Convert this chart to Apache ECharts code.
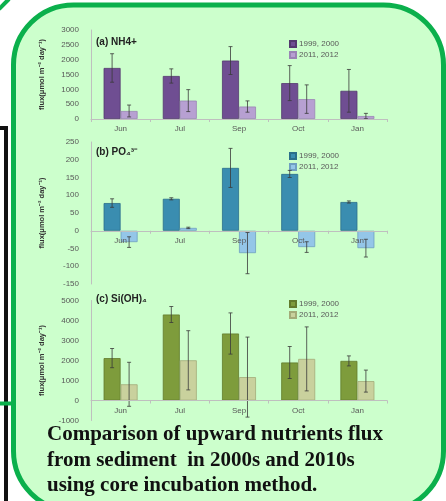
<!DOCTYPE html>
<html>
<head>
<meta charset="utf-8">
<script src="https://cdn.jsdelivr.net/npm/echarts@6/dist/echarts.min.js"></script>
<style>
  body { margin: 0; background: #fff; }
  #flux-chart { width: 446px; height: 501px; }
</style>
</head>
<body>
<div id="flux-chart"></div>
<script>
// months sampled
var months = ['Jun', 'Jul', 'Sep', 'Oct', 'Jan']

// (a) NH4+  flux
var nh4Old = [1720, 1450, 1970, 1210, 950]
var nh4OldErr = [480, 240, 470, 590, 720]
var nh4New = [270, 620, 420, 670, 100]
var nh4NewErr = [200, 370, 190, 480, 90]

// (b) PO4 flux
var po4Old = [78, 90, 177, 160, 81]
var po4OldErr = [12, 3, 55, 10, 3]
var po4New = [-32, 8, -63, -46, -49]
var po4NewErr = [15, 2, 58, 15, 25]

// (c) Si(OH)4 flux
var siOld = [2120, 4300, 3350, 1900, 1980]
var siOldErr = [480, 400, 1030, 800, 250]
var siNew = [810, 2010, 1170, 2080, 970]
var siNewErr = [1100, 1480, 2000, 1600, 550]

var periodLabels = { a1: '1999, 2000', a2: '2011, 2012', b1: '1999, 2000', b2: '2011, 2012', c1: '1999, 2000', c2: '2011, 2012' }
var captionLines = ['Comparison of upward nutrients flux', 'from sediment  in 2000s and 2010s', 'using core incubation method.']

var GAP = 0.426
var labelColor = '#595959'
var axisColor = '#bfbfbf'

var grids = [
  { left: 91, top: 30, width: 296, height: 89 },
  { left: 91, top: 142, width: 296, height: 142 },
  { left: 91, top: 300.5, width: 296, height: 120 }
]
var ranges = [[0, 3000, 500], [-150, 250, 50], [-1000, 5000, 1000]]

function errRender (side) {
  return function (params, api) {
    var i = api.value(0)
    var v = api.value(1)
    var e = api.value(2)
    var band = api.size([1, 0])[0]
    var bw = band * (1 - GAP) / 2
    var x = api.coord([i, v])[0] + side * bw / 2
    var yTop = api.coord([i, v + e])[1]
    var yBot = api.coord([i, v - e])[1]
    var st = { stroke: '#3a3a3a', lineWidth: 0.8 }
    return {
      type: 'group',
      children: [
        { type: 'line', shape: { x1: x, y1: yTop, x2: x, y2: yBot }, style: st },
        { type: 'line', shape: { x1: x - 2, y1: yTop, x2: x + 2, y2: yTop }, style: st },
        { type: 'line', shape: { x1: x - 2, y1: yBot, x2: x + 2, y2: yBot }, style: st }
      ]
    }
  }
}

function errData (vals, errs) {
  return vals.map(function (v, i) { return [i, v, errs[i]] })
}

// the category axis sits on the zero line; shift it up from the grid bottom
function xAxisFor (idx) {
  var r = ranges[idx]
  var lift = grids[idx].height * (0 - r[0]) / (r[1] - r[0])
  return {
    type: 'category',
    gridIndex: idx,
    data: months,
    z: 5,
    offset: -lift,
    axisLine: { onZero: false, lineStyle: { color: axisColor, width: 1 } },
    axisTick: { show: true, length: 3, lineStyle: { color: axisColor } },
    axisLabel: { color: labelColor, fontSize: 8, margin: 6 }
  }
}

function yAxisFor (idx) {
  var r = ranges[idx]
  return {
    type: 'value',
    gridIndex: idx,
    min: r[0],
    max: r[1],
    interval: r[2],
    name: 'flux(μmol m⁻² day⁻¹)',
    nameLocation: 'middle',
    nameRotate: 90,
    nameGap: 45,
    nameTextStyle: { fontSize: 7.5, fontWeight: 'bold', color: '#333' },
    splitLine: { show: false },
    axisLine: { show: true, onZero: false, lineStyle: { color: axisColor } },
    axisTick: { show: false },
    axisLabel: { color: labelColor, fontSize: 8, margin: 12, formatter: function (v) { return String(v) } }
  }
}

function barSeries (name, idx, data, color, border) {
  return {
    name: name,
    type: 'bar',
    xAxisIndex: idx,
    yAxisIndex: idx,
    data: data,
    barGap: '0%',
    barCategoryGap: (GAP * 100) + '%',
    itemStyle: { color: color, borderColor: border, borderWidth: 0.8 },
    z: 2
  }
}

function errSeries (idx, vals, errs, side) {
  return {
    type: 'custom',
    xAxisIndex: idx,
    yAxisIndex: idx,
    data: errData(vals, errs),
    encode: { x: 0, y: 1 },
    renderItem: errRender(side),
    z: 4
  }
}

function legendFor (names, top) {
  return {
    data: names,
    orient: 'vertical',
    left: 289,
    top: top,
    itemWidth: 6,
    itemHeight: 6,
    itemGap: 3,
    icon: 'rect',
    padding: 0,
    formatter: function (n) { return periodLabels[n] },
    textStyle: { fontSize: 8, color: labelColor, padding: [0, 0, 0, -2] }
  }
}

var chart = echarts.init(document.getElementById('flux-chart'))
var titleStyle = { fontSize: 10, fontWeight: 'bold', color: '#222', fontFamily: 'Liberation Sans' }

chart.setOption({
  textStyle: { fontFamily: 'Liberation Sans' },
  animation: false,
  graphic: [
    { type: 'rect', z: -10, shape: { x: 13.5, y: 5, width: 430, height: 506, r: 60 }, style: { fill: '#ccffcc', stroke: '#0bb04c', lineWidth: 5 } },
    { type: 'polyline', z: -10, shape: { points: [[0, 128], [6, 128], [6, 501]] }, style: { fill: null, stroke: '#111', lineWidth: 4 } },
    { type: 'line', z: -10, shape: { x1: 0, y1: 403.5, x2: 13, y2: 403.5 }, style: { stroke: '#0bb04c', lineWidth: 4 } },
    { type: 'line', z: -10, shape: { x1: -1, y1: 9, x2: 9, y2: -1 }, style: { stroke: '#0bb04c', lineWidth: 4 } }
  ],
  title: [
    { text: '(a) NH4+', left: 96, top: 37, padding: 0, textStyle: titleStyle },
    { text: '(b) PO₄³⁻', left: 96, top: 147, padding: 0, textStyle: titleStyle },
    { text: '(c) Si(OH)₄', left: 96, top: 294, padding: 0, textStyle: titleStyle },
    {
      text: captionLines.join('\n'),
      left: 47,
      top: 422,
      padding: 0,
      textStyle: { fontFamily: 'Liberation Serif', fontWeight: 'bold', fontSize: 21, lineHeight: 25.5, color: '#111' }
    }
  ],
  legend: [
    legendFor(['a1', 'a2'], 40),
    legendFor(['b1', 'b2'], 152),
    legendFor(['c1', 'c2'], 300)
  ],
  grid: grids,
  xAxis: [xAxisFor(0), xAxisFor(1), xAxisFor(2)],
  yAxis: [yAxisFor(0), yAxisFor(1), yAxisFor(2)],
  series: [
    barSeries('a1', 0, nh4Old, '#6f4e92', '#54396f'),
    barSeries('a2', 0, nh4New, '#b7a0d2', '#9a84b5'),
    errSeries(0, nh4Old, nh4OldErr, -1),
    errSeries(0, nh4New, nh4NewErr, 1),
    barSeries('b1', 1, po4Old, '#3a8db0', '#2b6e8a'),
    barSeries('b2', 1, po4New, '#94c6e8', '#6f9fc2'),
    errSeries(1, po4Old, po4OldErr, -1),
    errSeries(1, po4New, po4NewErr, 1),
    barSeries('c1', 2, siOld, '#7e9c3c', '#627b2c'),
    barSeries('c2', 2, siNew, '#c9d19d', '#a3ab78'),
    errSeries(2, siOld, siOldErr, -1),
    errSeries(2, siNew, siNewErr, 1)
  ]
})
</script>
</body>
</html>
